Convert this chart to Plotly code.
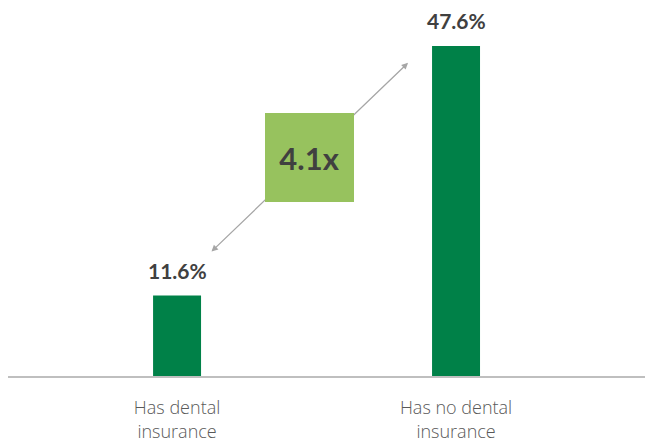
import plotly.graph_objects as go

categories = ["Has dental<br>insurance", "Has no dental<br>insurance"]
values = [11.6, 47.6]
value_labels = ["11.6%", "47.6%"]
ratio_label = "4.1x"

GREEN = "#008148"
LIGHT_GREEN = "#97C25E"
TEXT_DARK = "#404040"

xpos = list(range(len(categories)))

fig = go.Figure()
fig.add_trace(go.Bar(x=xpos, y=values, width=0.172, marker=dict(color=GREEN, line=dict(width=0)),
                     hoverinfo="skip"))

for xi, v, lab in zip(xpos, values, value_labels):
    fig.add_annotation(x=xi, y=v, text=f"<b>{lab}</b>", showarrow=False, yanchor="bottom",
                       yshift=11, font=dict(family="Lato", size=21, color=TEXT_DARK))

# double-headed arrow between the bars
fig.add_annotation(x=0.828, y=45.2, ax=0.118, ay=17.75, axref="x", ayref="y", xref="x", yref="y",
                   text="", showarrow=True, arrowhead=2, startarrowhead=2, arrowside="end+start",
                   arrowsize=1, startarrowsize=1, arrowwidth=1.3, arrowcolor="#A6A6A6",
                   standoff=0, startstandoff=0)
# ratio box
fig.add_annotation(x=0.475, y=31.5, xref="x", yref="y", text=f"<b>{ratio_label}</b>", showarrow=False,
                   width=89, height=89, bgcolor=LIGHT_GREEN, borderpad=0, borderwidth=0,
                   font=dict(family="Lato", size=31, color=TEXT_DARK), align="center", valign="middle")

fig.update_layout(
    width=645, height=434,
    margin=dict(l=0, r=0, t=0, b=66),
    plot_bgcolor="white", paper_bgcolor="white",
    showlegend=False,
    xaxis=dict(range=[-0.606, 1.706], tickvals=xpos, ticktext=categories, showgrid=False,
               zeroline=False, showline=True, linecolor="#BFBFBF", linewidth=1.5, ticks="",
               tickfont=dict(family="Open Sans", size=18, color="#595959", weight=300),
               ticklabelstandoff=15, automargin=False, fixedrange=True),
    yaxis=dict(range=[0, 53.1], visible=False, fixedrange=True),
)

fig.write_html("out.html")
